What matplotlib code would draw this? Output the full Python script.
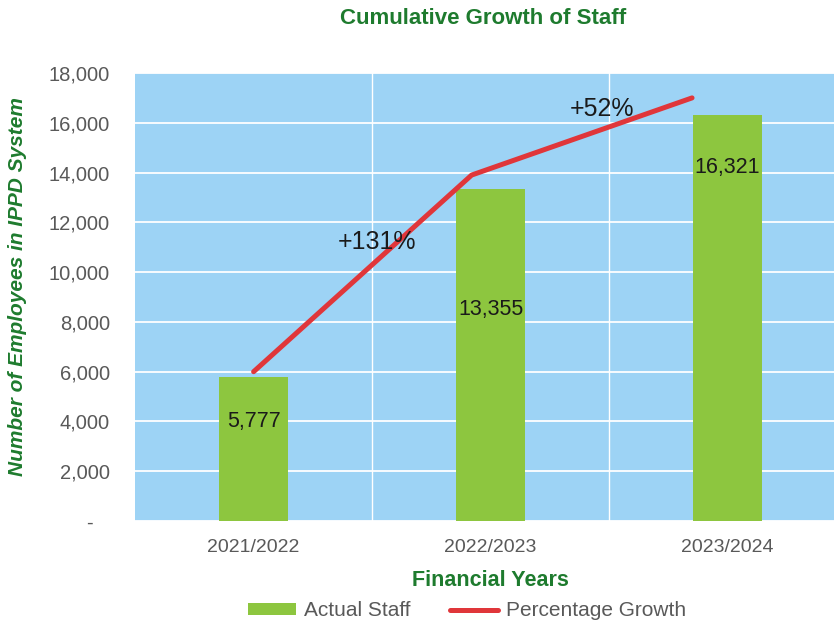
import matplotlib
matplotlib.use('Agg')
import matplotlib.pyplot as plt
from matplotlib.ticker import FuncFormatter

# datos del grafico
anios = ['2021/2022', '2022/2023', '2023/2024']
personal = [5777, 13355, 16321]
# la linea roja no coincide con el centro de las barras en el original
crecimiento_x = [0, 0.92, 1.85]
crecimiento_y = [6000, 13900, 17000]
etiquetas_crec = ['+131%', '+52%']
etiquetas_crec_pos = [(0.52, 11200), (1.47, 16550)]
etiquetas_barra_y = [4000, 8500, 14200]

VERDE = '#8DC63F'
ROJO = '#E0363A'
FONDO = '#9DD3F5'
VERDE_TXT = '#1E7B2E'
GRIS = '#595959'

plt.rcParams['font.family'] = ['Liberation Sans', 'DejaVu Sans']

fig = plt.figure(figsize=(8.34, 6.24), dpi=100)
ax = fig.add_axes([0.162, 0.165, 0.8525, 0.718])
ax.set_facecolor(FONDO)

x = list(range(len(anios)))
ax.bar(x, personal, width=0.29, color=VERDE, zorder=2, label='Actual Staff')
ax.plot(crecimiento_x, crecimiento_y, color=ROJO, lw=3.6, solid_capstyle='round',
        zorder=3, label='Percentage Growth')

for xi, val, yl in zip(x, personal, etiquetas_barra_y):
    ax.text(xi, yl, f'{val:,}', ha='center', va='center', fontsize=15.5, color='#1a1a1a', zorder=4)

for txt, (px, py) in zip(etiquetas_crec, etiquetas_crec_pos):
    ax.text(px, py, txt, ha='center', va='center', fontsize=18, color='#1a1a1a', zorder=4)

ax.set_xlim(-0.5, 2.5)
ax.set_ylim(0, 18000)
ax.set_yticks(range(0, 18001, 2000))
# formato contable: el cero sale como guion
ax.yaxis.set_major_formatter(FuncFormatter(lambda v, p: '-   ' if v == 0 else f'{int(v):,}'))
ax.set_xticks(x)
ax.set_xticklabels(anios)
ax.set_xticks([0.5, 1.5], minor=True)

ax.grid(axis='y', which='major', color='white', lw=1.3, zorder=1)
ax.grid(axis='x', which='minor', color='white', lw=1.0, zorder=1)
ax.grid(axis='x', which='major', visible=False)
for s in ax.spines.values():
    s.set_visible(False)
ax.tick_params(axis='both', which='both', length=0, labelcolor=GRIS)
ax.tick_params(axis='y', labelsize=14.5, pad=18)
ax.tick_params(axis='x', labelsize=14, pad=13)

fig.text(0.579, 0.971, 'Cumulative Growth of Staff', ha='center', va='center',
         fontsize=16, fontweight='bold', color=VERDE_TXT)
fig.text(0.021, 0.54, 'Number of Employees in IPPD System', rotation=90, ha='center', va='center',
         fontsize=15, fontweight='bold', fontstyle='italic', color=VERDE_TXT)
fig.text(0.588, 0.069, 'Financial Years', ha='center', va='center',
         fontsize=15.5, fontweight='bold', color=VERDE_TXT)

h, l = ax.get_legend_handles_labels()
orden = [l.index('Actual Staff'), l.index('Percentage Growth')]
leg = fig.legend([h[i] for i in orden], [l[i] for i in orden], loc='center',
                 bbox_to_anchor=(0.56, 0.021), ncol=2, frameon=False,
                 fontsize=15, handlelength=2.3, handleheight=0.45, handletextpad=0.4,
                 columnspacing=1.9)
for t in leg.get_texts():
    t.set_color(GRIS)

plt.savefig('out.png', dpi=100)
